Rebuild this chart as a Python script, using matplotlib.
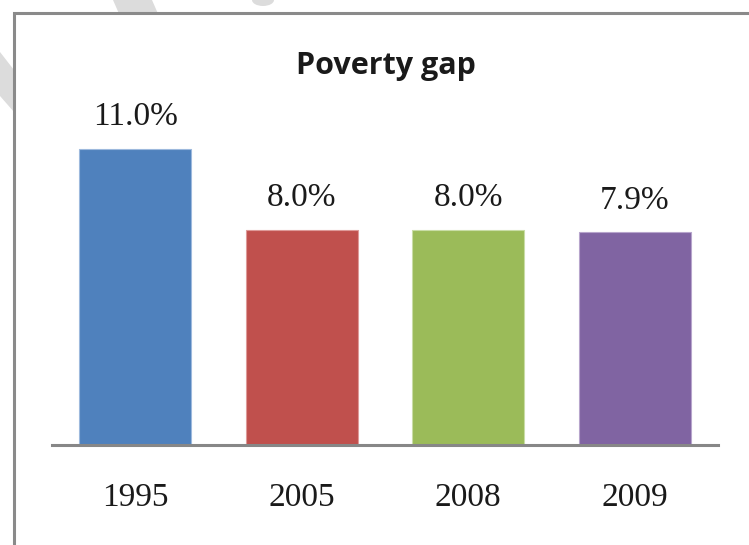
import matplotlib
matplotlib.use("Agg")
import matplotlib.pyplot as plt
from matplotlib.patches import Rectangle, Polygon, Ellipse

# data
years = ["1995", "2005", "2008", "2009"]
gap = [11.0, 8.0, 8.0, 7.9]
colors = ["#4F81BD", "#C0504D", "#9BBB59", "#8064A2"]
edges = ["#9DB9DD", "#DE9A98", "#C9DDA6", "#B7A5CC"]

W, H = 749, 545
fig = plt.figure(figsize=(W / 100, H / 100), dpi=100)
fig.patch.set_facecolor("white")


def px(x, y):
    # pixel position (from top-left) -> figure fraction
    return (x / W, (H - y) / H)


# faint grey stripes behind the chart box
wm = "#DCDCDC"
fig.add_artist(Polygon([px(113, 0), px(152, 0), px(159, 16), px(120, 16)],
                       closed=True, transform=fig.transFigure,
                       facecolor=wm, edgecolor="none", zorder=-3))
fig.add_artist(Polygon([px(0, 52), px(14, 70), px(14, 112), px(0, 96)],
                       closed=True, transform=fig.transFigure,
                       facecolor=wm, edgecolor="none", zorder=-3))
fig.add_artist(Ellipse(px(263, 0), 22 / W, 12 / H,
                       transform=fig.transFigure,
                       facecolor=wm, edgecolor="none", zorder=-3))

# chart box, running off the right and bottom edges
fig.add_artist(Rectangle(px(13.5, 600), 800 / W, (600 - 13) / H,
                         transform=fig.transFigure, facecolor="white",
                         edgecolor="#8A8A8A", linewidth=2.2, zorder=-2))

# plot area: baseline at y=445 px, 26.9 px per percentage point
top_val = 12.5
ax = fig.add_axes([52 / W, (H - 445) / H, (718 - 52) / W, top_val * 26.9 / H])
ax.set_facecolor("none")

x = range(len(years))
ax.bar(x, gap, width=0.67, color=colors, edgecolor=edges, linewidth=0.8)

for i, v in enumerate(gap):
    ax.annotate(f"{v:.1f}%", (i, v), xytext=(0, 23), textcoords="offset points",
                ha="center", va="center", fontsize=24,
                family="Liberation Serif", color="#1A1A1A")

ax.set_xlim(-0.5, len(years) - 0.5)
ax.set_ylim(0, top_val)
ax.set_xticks(list(x))
ax.set_xticklabels(years, fontsize=24, family="Liberation Serif", color="#1A1A1A")
ax.tick_params(axis="x", length=0, pad=27)
ax.set_yticks([])
for s in ["top", "left", "right"]:
    ax.spines[s].set_visible(False)
ax.spines["bottom"].set_color("#878787")
ax.spines["bottom"].set_linewidth(2.2)

fig.text(386 / W, (H - 66) / H, "Poverty gap", ha="center", va="center",
         fontsize=22, fontweight="bold", family="Open Sans", color="#1A1A1A")

fig.savefig("out.png", dpi=100)
